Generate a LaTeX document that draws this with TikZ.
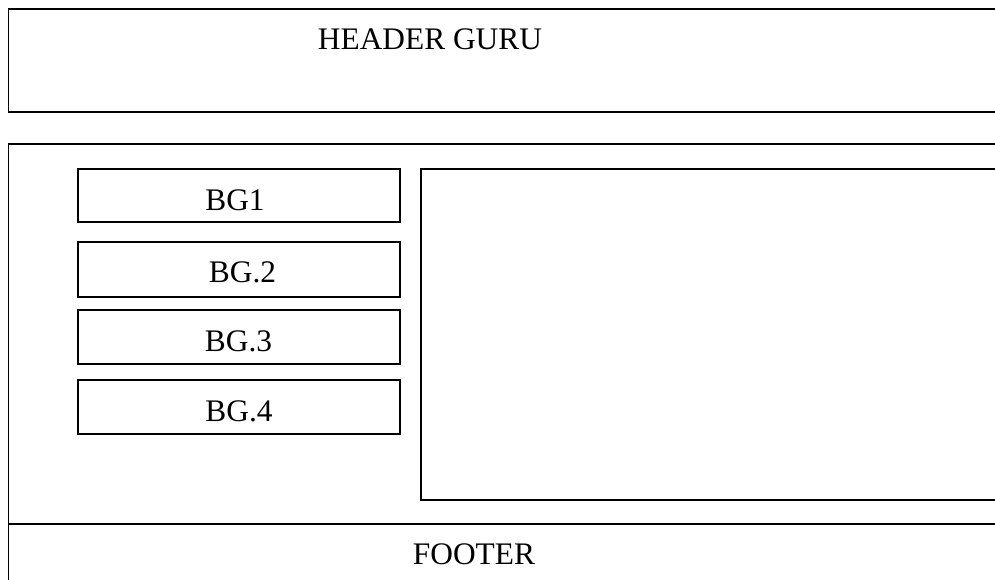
\documentclass[tikz,border=0pt]{standalone}
\usepackage{fontspec}
\setmainfont{Liberation Serif}
\begin{document}
\begin{tikzpicture}[x=1bp,y=-1bp,
  box/.style={draw=black,line width=1.9bp,anchor=north west,inner sep=0pt,outer sep=0pt},
  lbl/.style={inner sep=0pt,anchor=base,font=\fontsize{31.5}{36}\selectfont}]
\useasboundingbox (0,0) rectangle (995,580);
\clip (0,0) rectangle (995,580);
\fill[white] (0,0) rectangle (995,580);
% header
\node[box,minimum width=1010bp,minimum height=103bp] (header) at (8.5,9) {};
\node[lbl] (htext) at (430,50) {HEADER GURU};
% main frame
\node[box,minimum width=1010bp,minimum height=460bp] (main) at (8.5,144) {};
% footer
\node[box,minimum width=1010bp,minimum height=80bp] (footer) at (8.5,524) {};
\node[lbl] (ftext) at (474,564) {FOOTER};
% content
\node[box,minimum width=600bp,minimum height=331bp] (content) at (421,169) {};
% side buttons
\node[box,minimum width=322bp,minimum height=53bp] (bg1) at (78,169) {};
\node[lbl] (t1) at (235,211) {BG1};
\node[box,minimum width=322bp,minimum height=55bp] (bg2) at (78,242) {};
\node[lbl] (t2) at (242.5,283) {BG.2};
\node[box,minimum width=322bp,minimum height=54bp] (bg3) at (78,310) {};
\node[lbl] (t3) at (238.5,351) {BG.3};
\node[box,minimum width=322bp,minimum height=54bp] (bg4) at (78,380) {};
\node[lbl] (t4) at (239,421) {BG.4};
\end{tikzpicture}
\end{document}
